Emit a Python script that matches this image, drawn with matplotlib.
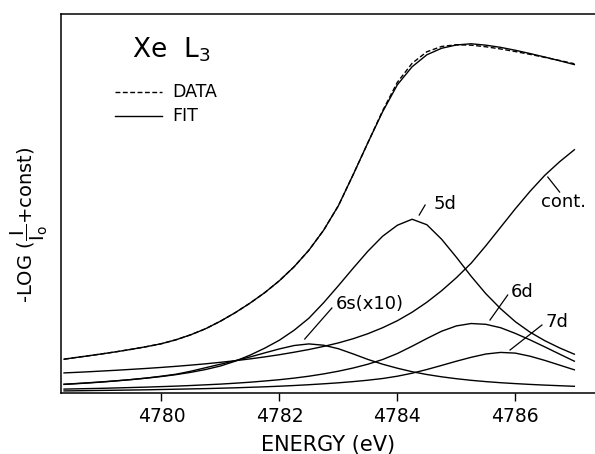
#!/usr/bin/env python3
"""Xe L3 edge absorption: data, fit and fitted components."""

import matplotlib
matplotlib.use('Agg')
import matplotlib.pyplot as plt
from matplotlib.ticker import FixedLocator

energy = [4778.35, 4778.5, 4778.75, 4779.0, 4779.25, 4779.5, 4779.75, 4780.0,
          4780.25, 4780.5, 4780.75, 4781.0, 4781.25, 4781.5, 4781.75, 4782.0,
          4782.25, 4782.5, 4782.75, 4783.0, 4783.25, 4783.5, 4783.75, 4784.0,
          4784.25, 4784.5, 4784.75, 4785.0, 4785.25, 4785.5, 4785.75, 4786.0,
          4786.25, 4786.5, 4786.75, 4787.0]

# Absorbance, arbitrary units
fit = [33.5, 34.8, 36.8, 38.9, 41.1, 43.5, 46.1, 49.0, 53.0, 58.0, 64.0, 71.5,
       80.0, 89.5, 100.0, 112.0, 126.0, 142.5, 162.5, 187.0, 218.0, 250.0,
       281.0, 308.0, 326.0, 338.0, 344.5, 347.8, 349.0, 347.6, 345.4, 342.5,
       339.2, 335.7, 332.0, 328.2]
data = [33.5, 34.8, 36.8, 38.9, 41.1, 43.5, 46.1, 49.0, 53.0, 58.0, 64.0, 71.5,
        80.0, 89.5, 100.0, 112.0, 126.0, 142.5, 162.5, 187.0, 218.0, 250.0,
        282.0, 310.5, 329.5, 341.0, 346.3, 348.0, 347.6, 346.0, 343.8, 341.2,
        338.4, 335.4, 332.3, 329.0]
peak_5d = [8.5, 9.0, 9.9, 10.9, 12.0, 13.2, 14.6, 16.2, 18.1, 20.4, 23.2, 26.7,
           31.5, 37.5, 44.5, 52.5, 62.5, 74.5, 90.0, 107.0, 124.5, 141.5,
           156.5, 167.5, 173.5, 168.0, 153.5, 135.5, 116.5, 99.0, 84.0, 71.0,
           60.5, 52.0, 44.8, 38.5]
peak_6d = [3.6, 3.8, 4.1, 4.4, 4.8, 5.2, 5.6, 6.1, 6.6, 7.2, 7.9, 8.6,
           9.5, 10.5, 11.7, 13.0, 14.6, 16.5, 18.8, 21.5, 24.7, 28.5,
           33.2, 39.2, 46.5, 54.2, 61.5, 66.8, 69.2, 68.4, 65.0, 59.3,
           52.8, 45.8, 38.6, 31.5]
peak_7d = [1.8, 1.9, 2.1, 2.3, 2.5, 2.7, 2.9, 3.2, 3.5, 3.8, 4.1, 4.5,
           4.9, 5.4, 5.9, 6.5, 7.2, 8.0, 8.9, 9.9, 11.1, 12.5,
           14.2, 16.5, 19.5, 23.2, 27.3, 31.5, 35.4, 38.7, 40.3, 39.6,
           36.5, 32.3, 27.6, 22.9]
peak_6s_x10 = [8.3, 8.8, 9.7, 10.7, 11.9, 13.2, 14.7, 16.5, 18.5, 21.5, 25.0,
               28.5, 32.0, 35.7, 39.8, 43.8, 47.2, 48.8, 47.5, 44.0, 38.8,
               33.3, 28.5, 24.5, 21.0, 18.2, 15.9, 14.0, 12.4, 11.1, 10.0,
               9.1, 8.3, 7.6, 7.0, 6.4]
continuum = [19.8, 20.2, 20.9, 21.7, 22.5, 23.4, 24.3, 25.3, 26.4, 27.6, 28.9,
             30.4, 32.0, 33.8, 35.8, 38.0, 40.5, 43.2, 46.3, 49.8, 54.0, 59.0,
             65.0, 72.0, 80.5, 90.5, 102.0, 115.0, 129.5, 147.0, 165.5, 184.0,
             201.5, 217.5, 231.0, 243.0]

tick_energies = [4780, 4782, 4784, 4786]

fig = plt.figure(figsize=(5.95, 4.54), dpi=100)
ax = fig.add_axes([0.1017, 0.135, 0.8983, 0.834])

lw = 1.0
dash = (0, (3.5, 1.8))
ax.plot(energy, data, color='black', linestyle=dash, linewidth=lw)
for curve in [fit, peak_5d, peak_6d, peak_7d, peak_6s_x10, continuum]:
    ax.plot(energy, curve, color='black', linewidth=lw)

ax.set_xlim(4778.29, 4787.35)
ax.set_ylim(0, 378.7)

# Spines / ticks: open on the right, no y ticks
ax.spines['right'].set_visible(False)
for side in ['left', 'top', 'bottom']:
    ax.spines[side].set_linewidth(1.1)
ax.xaxis.set_major_locator(FixedLocator(tick_energies))
ax.tick_params(axis='x', direction='out', length=6, width=1.0,
               labelsize=13.5, pad=4)
ax.set_yticks([])

ax.set_xlabel('ENERGY (eV)', fontsize=15, labelpad=7)
ax.set_ylabel(r'-LOG ($\dfrac{\mathrm{I}}{\mathrm{I}_\mathrm{o}}$+const)',
              fontsize=14)
ax.yaxis.set_label_coords(-0.02, 0.443)

# Title and legend drawn by hand, like the original
ax.text(4779.50, 343, r'Xe  L$_3$', fontsize=19, va='center', ha='left')
ax.plot([4779.21, 4780.01], [300.7, 300.7], color='black',
        linestyle=dash, linewidth=lw)
ax.plot([4779.21, 4780.01], [276.7, 276.7], color='black', linewidth=lw)
ax.text(4780.18, 300.7, 'DATA', fontsize=12.5, va='center', ha='left')
ax.text(4780.18, 276.7, 'FIT', fontsize=12.5, va='center', ha='left')

# Component labels with leader lines
labels = [
    ('5d', (4784.37, 177.7), (4784.47, 187.7), (4784.80, 189)),
    ('cont.', (4786.55, 215.7), (4786.75, 200.7), (4786.82, 191)),
    ('6s(x10)', (4782.43, 53.7), (4782.89, 84.7), (4783.53, 89)),
    ('6d', (4785.57, 72.7), (4785.87, 97.7), (4786.11, 101)),
    ('7d', (4785.91, 42.7), (4786.45, 67.7), (4786.70, 71)),
]
for text, p0, p1, pt in labels:
    ax.plot([p0[0], p1[0]], [p0[1], p1[1]], color='black', linewidth=0.9)
    ax.text(pt[0], pt[1], text, fontsize=13, ha='center', va='center')

fig.savefig('out.png', dpi=100)
